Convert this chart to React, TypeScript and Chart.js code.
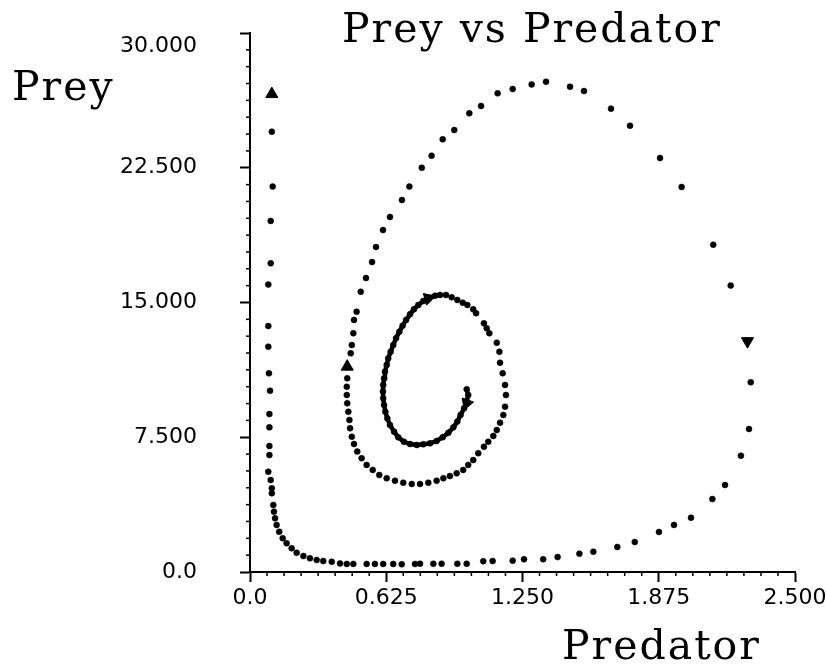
import React, { useEffect, useRef } from 'react';
import { Chart, registerables } from 'chart.js';

Chart.register(...registerables);

const titleText = 'Prey vs Predator';
const xAxisTitle = 'Predator';
const yAxisTitle = 'Prey';

const xTickLabels = ['0.0', '0.625', '1.250', '1.875', '2.500'];
const yTickLabels = ['0.0', '7.500', '15.000', '22.500', '30.000'];

// dense inner loop of the spiral (Predator, Prey)
const innerPredator = [
  0.994, 1.001, 0.994, 0.982, 0.966, 0.951, 0.933, 0.910, 0.884, 0.856,
  0.826, 0.795, 0.765, 0.734, 0.706, 0.680, 0.661, 0.642, 0.630, 0.621,
  0.615, 0.611, 0.610, 0.611, 0.615, 0.619, 0.627, 0.634, 0.645, 0.657,
  0.670, 0.685, 0.700, 0.716, 0.734, 0.752, 0.772, 0.795, 0.822, 0.849, 0.872,
];
const innerPrey = [
  10.17, 9.85, 9.48, 9.11, 8.74, 8.37, 8.05, 7.75, 7.50, 7.29,
  7.16, 7.11, 7.07, 7.12, 7.25, 7.50, 7.81, 8.18, 8.55, 8.92,
  9.29, 9.67, 10.04, 10.41, 10.78, 11.15, 11.52, 11.89, 12.26, 12.63,
  13.01, 13.37, 13.71, 14.03, 14.34, 14.62, 14.86, 15.08, 15.27, 15.38, 15.42,
];

// dotted middle loop and outer orbit (Predator, Prey)
const outerPredator = [
  0.899, 0.925, 0.951, 0.976, 0.997, 1.024, 1.037, 1.073, 1.086, 1.098,
  1.132, 1.144, 1.147, 1.159, 1.170, 1.174, 1.170, 1.162, 1.147, 1.132,
  1.116, 1.093, 1.073, 1.047, 1.024, 1.001, 0.978, 0.948, 0.917, 0.887,
  0.856, 0.818, 0.780, 0.742, 0.703, 0.665, 0.627, 0.593, 0.563, 0.535,
  0.512, 0.492, 0.477, 0.467, 0.459, 0.456, 0.451, 0.446, 0.444, 0.444,
  0.446, 0.462, 0.467, 0.474, 0.477, 0.489, 0.508,
  0.532, 0.560, 0.578, 0.610, 0.642, 0.697, 0.731, 0.788, 0.833, 0.884,
  0.937, 1.006, 1.060, 1.136, 1.205, 1.292, 1.358, 1.468, 1.532, 1.656,
  1.743, 1.881, 1.980, 2.125, 2.205,
  2.297, 2.289, 2.252, 2.179, 2.121, 2.023, 1.945, 1.876, 1.765, 1.685,
  1.575, 1.511, 1.411, 1.345, 1.257, 1.205, 1.113, 1.070, 0.994, 0.951,
  0.879, 0.841, 0.780, 0.757, 0.696, 0.657, 0.611, 0.573, 0.535, 0.474,
  0.444, 0.413, 0.375, 0.336, 0.306, 0.275, 0.245, 0.214, 0.191, 0.168,
  0.150, 0.134, 0.122, 0.115, 0.110, 0.107, 0.100, 0.100, 0.095, 0.084,
  0.089, 0.089, 0.089, 0.089, 0.092, 0.087, 0.084, 0.084, 0.084, 0.095,
  0.095, 0.104, 0.100,
];
const outerPrey = [
  15.42, 15.29, 15.14, 14.99, 14.86, 14.62, 14.40, 13.84, 13.56, 13.29,
  12.76, 12.26, 11.65, 11.06, 10.41, 9.85, 9.20, 8.74, 8.31, 7.90,
  7.57, 7.25, 6.97, 6.61, 6.23, 5.96, 5.68, 5.49, 5.34, 5.22,
  5.08, 4.97, 4.90, 4.90, 4.97, 5.08, 5.22, 5.40, 5.68, 5.96,
  6.33, 6.70, 7.12, 7.53, 8.00, 8.46, 8.92, 9.39, 9.85, 10.31,
  10.78, 12.17, 12.63, 13.29, 14.03, 14.49, 15.60,
  16.36, 17.25, 18.09, 19.03, 19.76, 20.70, 21.45, 22.50, 23.17, 24.08,
  24.60, 25.53, 25.94, 26.64, 26.88, 27.14, 27.29, 27.01, 26.77, 25.79,
  24.84, 23.04, 21.43, 18.22, 15.94,
  10.56, 7.96, 6.47, 4.84, 4.06, 3.02, 2.62, 2.23, 1.67, 1.39,
  1.13, 1.02, 0.83, 0.71, 0.71, 0.63, 0.61, 0.60, 0.46, 0.46,
  0.46, 0.46, 0.46, 0.45, 0.43, 0.45, 0.45, 0.45, 0.45, 0.45,
  0.45, 0.48, 0.57, 0.61, 0.67, 0.76, 0.89, 1.07, 1.32, 1.60,
  1.88, 2.24, 2.62, 2.99, 3.36, 3.73, 4.38, 4.66, 5.12, 5.58,
  6.51, 7.01, 8.05, 8.79, 10.09, 11.06, 12.54, 13.69, 16.00, 17.18,
  19.54, 21.45, 24.51,
];

// direction arrows
const arrowPredator = [0.100, 2.282, 0.446, 0.818, 0.994];
const arrowPrey = [26.60, 12.85, 11.43, 15.23, 9.39];
const arrowRotation = [0, 180, 0, 75, 200];

const toPoints = (xs: number[], ys: number[]) => xs.map((x, i) => ({ x, y: ys[i] }));

const noOverhang = (s: any) => {
  s.paddingTop = 0;
  s.paddingBottom = 0;
  s.paddingLeft = 0;
  s.paddingRight = 0;
};

export default function App() {
  const canvasRef = useRef<HTMLCanvasElement>(null);

  useEffect(() => {
    if (!canvasRef.current) return;

    const decorPlugin = {
      id: 'decor',
      afterDraw(chart: any) {
        const ctx = chart.ctx;
        const xs = chart.scales.x;
        const ys = chart.scales.y;
        const area = chart.chartArea;
        ctx.save();
        ctx.strokeStyle = '#000';
        ctx.lineWidth = 1.5;
        // minor ticks (8 per major interval)
        for (let i = 0; i <= 32; i++) {
          if (i % 8 === 0) continue;
          const px = xs.getPixelForValue((i * 2.5) / 32);
          ctx.beginPath();
          ctx.moveTo(px, area.bottom);
          ctx.lineTo(px, area.bottom + 4);
          ctx.stroke();
          const py = ys.getPixelForValue((i * 30) / 32);
          ctx.beginPath();
          ctx.moveTo(area.left, py);
          ctx.lineTo(area.left - 4, py);
          ctx.stroke();
        }
        // texts
        ctx.fillStyle = '#000';
        ctx.font = '41px "DejaVu Serif"';
        (ctx as any).letterSpacing = '2px';
        ctx.textAlign = 'left';
        ctx.textBaseline = 'alphabetic';
        ctx.fillText(titleText, area.left + 92, 42);
        ctx.fillText(yAxisTitle, 12, 100);
        ctx.fillText(xAxisTitle, area.left + 312, 659);
        ctx.restore();
      },
    };

    const chart = new Chart(canvasRef.current, {
      type: 'scatter',
      data: {
        datasets: [
          {
            data: toPoints(innerPredator, innerPrey),
            showLine: true,
            borderColor: '#000',
            borderWidth: 4.5,
            backgroundColor: '#000',
            pointStyle: 'circle',
            pointRadius: 3,
            pointBorderWidth: 0.5,
            pointBorderColor: '#000',
            tension: 0,
          },
          {
            data: toPoints(outerPredator, outerPrey),
            showLine: false,
            backgroundColor: '#000',
            pointStyle: 'circle',
            pointRadius: 3,
            pointBorderWidth: 0.5,
            pointBorderColor: '#000',
          },
          {
            data: toPoints(arrowPredator, arrowPrey),
            showLine: false,
            backgroundColor: '#000',
            pointStyle: 'triangle',
            pointRadius: 7,
            pointBorderWidth: 1,
            pointBorderColor: '#000',
            pointRotation: arrowRotation,
          } as any,
        ],
      },
      options: {
        animation: false,
        responsive: true,
        maintainAspectRatio: false,
        layout: { padding: { top: 33, right: 31, left: 0, bottom: 0 } },
        plugins: {
          legend: { display: false },
          tooltip: { enabled: false },
          title: { display: false },
        },
        scales: {
          x: {
            type: 'linear',
            position: 'bottom',
            min: 0,
            max: 2.5,
            afterFit: (s: any) => { s.height = 99; noOverhang(s); },
            ticks: {
              stepSize: 0.625,
              autoSkip: false,
              maxRotation: 0,
              padding: 3,
              color: '#000',
              font: { family: 'DejaVu Sans', size: 22 },
              callback: (v: any) => xTickLabels[Math.round(Number(v) / 0.625)] ?? '',
            },
            grid: {
              display: true,
              drawOnChartArea: false,
              drawTicks: true,
              tickLength: 10,
              tickColor: '#000',
              tickWidth: 2,
            },
            border: { display: true, color: '#000', width: 2 },
          },
          y: {
            type: 'linear',
            position: 'left',
            min: 0,
            max: 30,
            afterFit: (s: any) => { s.width = 250; noOverhang(s); },
            ticks: {
              stepSize: 7.5,
              autoSkip: false,
              padding: 43,
              color: '#000',
              font: { family: 'DejaVu Sans', size: 22 },
              callback: (v: any) => {
                const i = Math.round(Number(v) / 7.5);
                return i === 4 ? ['', yTickLabels[i]] : yTickLabels[i] ?? '';
              },
            },
            grid: {
              display: true,
              drawOnChartArea: false,
              drawTicks: true,
              tickLength: 10,
              tickColor: '#000',
              tickWidth: 2,
            },
            border: { display: true, color: '#000', width: 2 },
          },
        },
      } as any,
      plugins: [decorPlugin],
    });

    return () => chart.destroy();
  }, []);

  return (
    <div style={{ position: 'fixed', left: 0, top: 0, width: 826, height: 671, background: '#fff' }}>
      <canvas ref={canvasRef} />
    </div>
  );
}
